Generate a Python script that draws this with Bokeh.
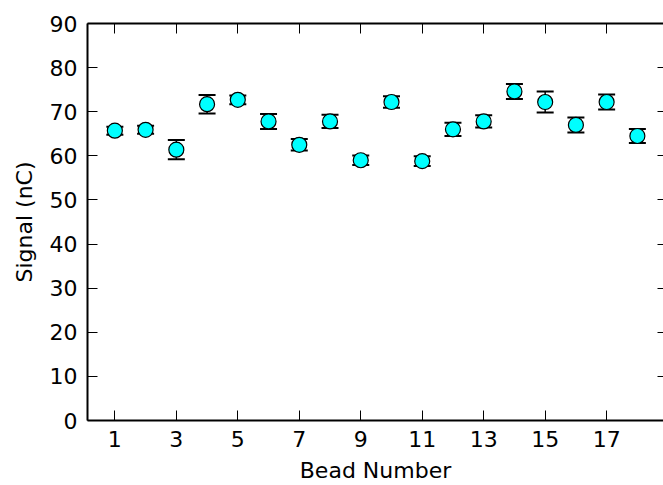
from bokeh.plotting import figure
from bokeh.models import Range1d, FixedTicker, LinearAxis, Whisker, ColumnDataSource, TeeHead, CustomJSTickFormatter
from bokeh.embed import file_html
from bokeh.resources import INLINE

beads = list(range(1, 19))
signal = [65.7, 65.9, 61.4, 71.7, 72.7, 67.8, 62.5, 67.8, 59.0, 72.2, 58.8, 66.0, 67.8, 74.6, 72.2, 67.0, 72.2, 64.5]
error = [0.9, 0.9, 2.2, 2.1, 1.0, 1.7, 1.3, 1.5, 1.1, 1.3, 1.1, 1.5, 1.4, 1.7, 2.4, 1.7, 1.7, 1.6]
x_ticks = [1, 3, 5, 7, 9, 11, 13, 15, 17]
y_ticks = [0, 10, 20, 30, 40, 50, 60, 70, 80, 90]
x_title = "Bead Number"
y_title = "Signal (nC)"

src = ColumnDataSource(dict(
    x=beads, y=signal,
    lo=[s - e for s, e in zip(signal, error)],
    hi=[s + e for s, e in zip(signal, error)],
))

FONT = "DejaVu Sans"
FS = "22px"

p = figure(width=663, height=485, output_backend="svg", toolbar_location=None,
           x_range=Range1d(0.11, 18.85), y_range=Range1d(0, 90),
           min_border_left=87, min_border_top=23, min_border_bottom=64, min_border_right=0,
           x_axis_label=x_title, y_axis_label=y_title)
p.outline_line_color = None
p.grid.visible = False
p.background_fill_color = "white"
p.border_fill_color = "white"

def style(ax, ticks, labels=True):
    ax.ticker = FixedTicker(ticks=ticks)
    ax.minor_tick_line_color = None
    ax.major_tick_in = 10
    ax.major_tick_out = 0
    ax.major_tick_line_color = "black"
    ax.major_tick_line_width = 1
    ax.axis_line_color = "black"
    ax.axis_line_width = 2
    ax.major_label_text_font = FONT
    ax.major_label_text_font_size = FS
    ax.major_label_text_color = "black"
    ax.axis_label_text_font = FONT
    ax.axis_label_text_font_size = FS
    ax.axis_label_text_font_style = "normal"
    ax.axis_label_text_color = "black"
    if not labels:
        ax.formatter = CustomJSTickFormatter(code="return ''")
        ax.major_label_standoff = 0
        ax.major_label_text_font_size = "0px"

style(p.xaxis[0], x_ticks)
style(p.yaxis[0], y_ticks)
p.xaxis[0].major_label_standoff = 10
p.xaxis[0].axis_label_standoff = 8
p.yaxis[0].major_label_standoff = 10
p.yaxis[0].axis_label_standoff = 10

top = LinearAxis()
style(top, x_ticks, labels=False)
p.add_layout(top, "above")
right = LinearAxis()
style(right, y_ticks, labels=False)
right.axis_line_color = None
right.major_tick_in = 6
p.add_layout(right, "right")

p.add_layout(Whisker(source=src, base="x", lower="lo", upper="hi",
                     line_color="black", line_width=1.5,
                     lower_head=TeeHead(size=17, line_color="black", line_width=2),
                     upper_head=TeeHead(size=17, line_color="black", line_width=2)))
p.scatter("x", "y", source=src, size=15, fill_color="#00ffff", line_color="black", line_width=1.2)

open("out.html", "w").write(file_html(p, INLINE))
